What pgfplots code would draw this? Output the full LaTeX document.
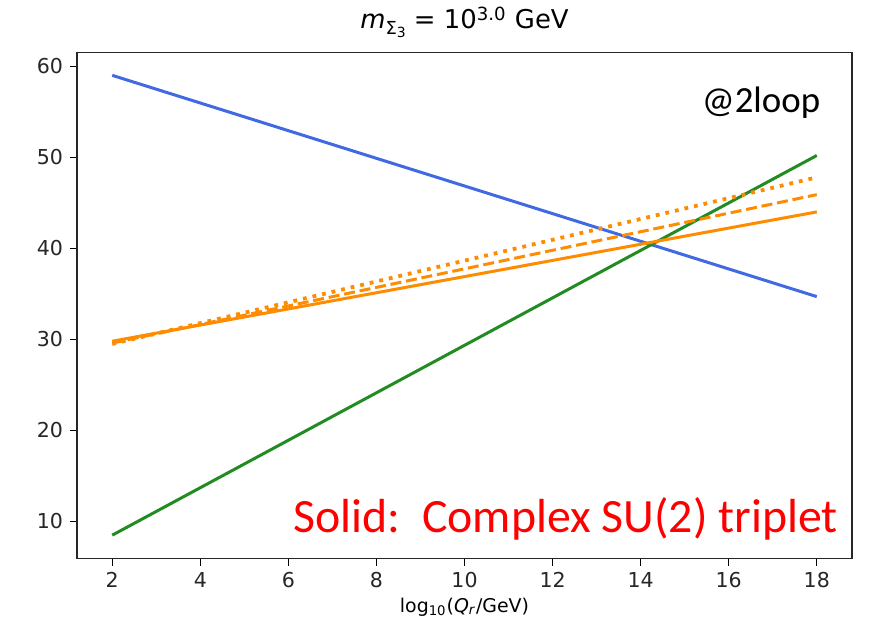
\documentclass[border=0pt]{standalone}
\usepackage{fontspec}
\setmainfont{DejaVu Sans}
\newfontfamily\calibri{Carlito}
\usepackage{pgfplots}
\pgfplotsset{compat=1.18}
\usetikzlibrary{calc}

\definecolor{mplblue}{RGB}{65,105,225}
\definecolor{mplgreen}{RGB}{34,139,34}
\definecolor{mplorange}{RGB}{255,140,0}

\begin{document}
\begin{tikzpicture}
\begin{axis}[
    name=ax,
    scale only axis,
    width=387.5bp, height=253bp,
    xmin=1.2, xmax=18.8,
    ymin=5.93, ymax=61.5,
    xtick={2,4,...,18},
    ytick={10,20,...,60},
    xtick pos=lower, ytick pos=left,
    tick align=outside,
    major tick length=3.5bp,
    tick style={black, line width=0.6bp},
    axis line style={line width=0.7bp, black!85},
    /pgf/number format/assume math mode=true,
    ticklabel style={font=\fontsize{10.3}{12}\selectfont, text=black!85},
    title={{\itshape m}\raisebox{-0.4ex}{\fontsize{9}{10}\selectfont Σ\raisebox{-0.3ex}{\fontsize{7}{8}\selectfont 3}} = 10\textsuperscript{3.0} GeV},
    title style={font=\fontsize{13}{15}\selectfont, yshift=-2bp},
    xlabel={log\textsubscript{10}(\textit{Q}\textsubscript{\textit{r}}/GeV)},
    xlabel style={font=\fontsize{9.5}{11}\selectfont, yshift=2bp},
    clip=false,
]
% blue
\addplot[mplblue, line width=1.5bp] coordinates {(2,59.0) (18,34.7)};
% green
\addplot[mplgreen, line width=1.5bp] coordinates {(2,8.5) (18,50.2)};
% orange solid / dashed / dotted
\addplot[mplorange, line width=1.5bp] coordinates {(2,29.8) (18,44.0)};
\addplot[mplorange, line width=1.5bp, dash pattern=on 5.5bp off 2.4bp] coordinates {(2,29.6) (18,45.9)};
\addplot[mplorange, line width=1.9bp, dash pattern=on 1.9bp off 3bp] coordinates {(2,29.5) (18,47.8)};

\node[anchor=east, font=\calibri\fontsize{18.5}{20}\selectfont] at (rel axis cs:0.968,0.901) {@2loop};
\node[anchor=base east, text=red, font=\calibri\fontsize{24}{26}\selectfont] at (rel axis cs:0.991,0.051) {Solid:\ \ Complex SU(2) triplet};
\end{axis}
\path ($(ax.south west)+(-38.5bp,-36.5bp)$) rectangle ($(ax.north east)+(11bp,23.5bp)$);
\end{tikzpicture}
\end{document}
